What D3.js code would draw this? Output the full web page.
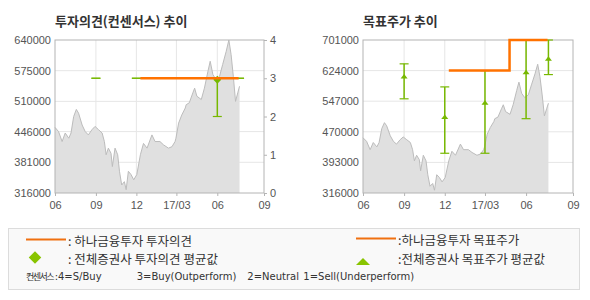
<!DOCTYPE html>
<html>
<head>
<meta charset="utf-8">
<script src="https://cdn.jsdelivr.net/npm/d3@7"></script>
<style>
body { margin: 0; background: #fff; }
text { font-family: "Liberation Sans", Arial, sans-serif; }
.kr { font-family: "Noto Sans CJK KR", "Noto Sans", sans-serif; }
.dv { font-family: "DejaVu Sans", sans-serif; }
</style>
</head>
<body>
<svg id="chart" width="590" height="300"></svg>
<script>
// share price
var priceDates = ["2016-06-01","2016-06-09","2016-06-17","2016-06-24","2016-07-02","2016-07-07","2016-07-13","2016-07-19","2016-07-24",
  "2016-08-01","2016-08-08","2016-08-15","2016-08-23","2016-08-30","2016-09-07","2016-09-15","2016-09-20","2016-09-24","2016-09-29",
  "2016-10-05","2016-10-08","2016-10-14","2016-10-20","2016-10-24","2016-10-29","2016-11-04","2016-11-08","2016-11-13","2016-11-19",
  "2016-11-25","2016-12-02","2016-12-10","2016-12-17","2016-12-25","2017-01-05","2017-01-12","2017-01-23","2017-01-31","2017-02-11",
  "2017-02-19","2017-02-26","2017-02-28","2017-03-06","2017-03-13","2017-03-21","2017-03-23","2017-03-30","2017-04-07","2017-04-11",
  "2017-04-16","2017-04-26","2017-05-03","2017-05-11","2017-05-16","2017-05-22","2017-05-29","2017-06-06","2017-06-13","2017-06-21",
  "2017-06-27","2017-07-02","2017-07-07","2017-07-12","2017-07-17","2017-07-21"];
var priceValues = [455000,446000,425000,443000,432000,443000,478000,493000,485000,
  460000,446000,439000,450000,457000,450000,443000,425000,397000,411000,
  400000,372000,411000,397000,362000,333000,340000,323000,362000,355000,
  344000,355000,397000,421000,411000,439000,425000,425000,418000,411000,
  414000,425000,432000,464000,481000,496000,503000,507000,528000,538000,
  521000,514000,538000,574000,595000,567000,556000,563000,588000,616000,
  640000,609000,563000,510000,528000,542000];

var xTickDates = ["2016-06-01","2016-09-01","2016-12-01","2017-03-01","2017-06-01","2017-09-14"];
var xTickLabels = ["06","09","12","17/03","06","09"];

var leftPriceTicks = [316000,381000,446000,510000,575000,640000];
var opinionTicks = [0,1,2,3,4];
var rightPriceTicks = [316000,393000,470000,547000,624000,701000];

// 하나금융투자
var hanaOpinionDates = ["2016-12-10","2017-07-19"];
var hanaOpinionValues = [3,3];
var hanaTargetDates = ["2016-12-10","2017-04-25","2017-07-19"];
var hanaTargetValues = [624000,701000,701000];

// 전체증권사 (min / avg / max)
var consensusDates = ["2016-09-01","2016-12-01","2017-03-01","2017-06-01","2017-07-21"];
var opinionMin = [3,3,3,2,3];
var opinionAvg = [3,3,3,2.96,3];
var opinionMax = [3,3,3,3,3];
var targetMin = [553000,416000,416000,503000,614000];
var targetAvg = [609000,507000,543000,620000,654000];
var targetMax = [641000,583000,624000,701000,701000];

var parse = d3.timeParse("%Y-%m-%d");
var ORANGE = "#ff7200", GREEN = "#77b800", GRID = "#e6e6e6", FRAME = "#b4b4b4", LABEL = "#555";

var svg = d3.select("#chart");

var prices = priceDates.map(function(d, i) { return { date: parse(d), value: priceValues[i] }; });

function panel(left, right, title, priceTicks) {
  var top = 40, bottom = 193;
  var x = d3.scaleTime().domain([parse(xTickDates[0]), parse(xTickDates[xTickDates.length - 1])]).range([left, right]);
  var y = d3.scaleLinear().domain([priceTicks[0], priceTicks[priceTicks.length - 1]]).range([bottom, top]);
  var g = svg.append("g");

  g.append("text").attr("class", "kr").attr("x", left).attr("y", 26)
    .attr("font-size", 13).attr("font-weight", "bold").attr("fill", "#333").text(title);

  // grid
  g.selectAll(".hg").data(priceTicks.slice(1, -1)).enter().append("line")
    .attr("x1", left).attr("x2", right).attr("y1", d => y(d)).attr("y2", d => y(d))
    .attr("stroke", GRID);
  g.selectAll(".vg").data(xTickDates.slice(1, -1)).enter().append("line")
    .attr("y1", top).attr("y2", bottom).attr("x1", d => x(parse(d))).attr("x2", d => x(parse(d)))
    .attr("stroke", GRID);

  // price area
  g.append("path").datum(prices)
    .attr("d", d3.area().x(d => x(d.date)).y0(bottom).y1(d => y(d.value)))
    .attr("fill", "#e0e0e0");
  g.append("path").datum(prices)
    .attr("d", d3.line().x(d => x(d.date)).y(d => y(d.value)))
    .attr("fill", "none").attr("stroke", "#bcbcbc").attr("stroke-width", 1);

  // frame
  g.append("rect").attr("x", left).attr("y", top).attr("width", right - left).attr("height", bottom - top)
    .attr("fill", "none").attr("stroke", FRAME);

  // axes
  var yAxis = g.append("g").attr("transform", "translate(" + left + ",0)")
    .call(d3.axisLeft(y).tickValues(priceTicks).tickSize(0).tickPadding(4).tickFormat(d3.format("d")));
  var xAxis = g.append("g").attr("transform", "translate(0," + bottom + ")")
    .call(d3.axisBottom(x).tickValues(xTickDates.map(parse)).tickSize(3).tickPadding(5)
      .tickFormat((d, i) => xTickLabels[i]));
  [yAxis, xAxis].forEach(function(a) {
    a.select(".domain").remove();
    a.selectAll("line").attr("stroke", FRAME);
    a.selectAll("text").attr("fill", LABEL).attr("font-size", 11);
  });

  return { g: g, x: x, y: y, top: top, bottom: bottom };
}

// ---- left: 투자의견
var L = panel(55, 264, "투자의견(컨센서스) 추이", leftPriceTicks);
var yo = d3.scaleLinear().domain([0, 4]).range([L.bottom, L.top]);
var rAxis = L.g.append("g").attr("transform", "translate(264,0)")
  .call(d3.axisRight(yo).tickValues(opinionTicks).tickSize(3).tickPadding(3).tickFormat(d3.format("d")));
rAxis.select(".domain").remove();
rAxis.selectAll("line").attr("stroke", FRAME);
rAxis.selectAll("text").attr("fill", LABEL).attr("font-size", 11);

function errorBars(g, x, y, mins, maxs) {
  consensusDates.forEach(function(d, i) {
    var cx = x(parse(d));
    g.append("line").attr("x1", cx).attr("x2", cx).attr("y1", y(mins[i])).attr("y2", y(maxs[i]))
      .attr("stroke", GREEN).attr("stroke-width", 1.5);
    [mins[i], maxs[i]].forEach(function(v) {
      g.append("line").attr("x1", cx - 4.5).attr("x2", cx + 4.5).attr("y1", y(v)).attr("y2", y(v))
        .attr("stroke", GREEN).attr("stroke-width", 1.2);
    });
  });
}

errorBars(L.g, L.x, yo, opinionMin, opinionMax);
consensusDates.forEach(function(d, i) {
  if (opinionMin[i] === opinionMax[i]) return;
  L.g.append("path").attr("d", d3.symbol(d3.symbolDiamond2, 40)())
    .attr("transform", "translate(" + L.x(parse(d)) + "," + yo(opinionAvg[i]) + ")")
    .attr("fill", GREEN);
});
L.g.append("path")
  .datum(hanaOpinionDates.map((d, i) => ({ date: parse(d), value: hanaOpinionValues[i] })))
  .attr("d", d3.line().x(d => L.x(d.date)).y(d => yo(d.value)))
  .attr("fill", "none").attr("stroke", ORANGE).attr("stroke-width", 2.5);

// ---- right: 목표주가
var R = panel(363, 573, "목표주가 추이", rightPriceTicks);
errorBars(R.g, R.x, R.y, targetMin, targetMax);
consensusDates.forEach(function(d, i) {
  var cx = R.x(parse(d)), cy = R.y(targetAvg[i]);
  R.g.append("path").attr("d", "M" + (cx - 3.5) + "," + (cy + 2) + "L" + cx + "," + (cy - 2.5) + "L" + (cx + 3.5) + "," + (cy + 2) + "Z")
    .attr("fill", GREEN);
});
R.g.append("path")
  .datum(hanaTargetDates.map((d, i) => ({ date: parse(d), value: hanaTargetValues[i] })))
  .attr("d", d3.line().curve(d3.curveStepAfter).x(d => R.x(d.date)).y(d => R.y(d.value)))
  .attr("fill", "none").attr("stroke", ORANGE).attr("stroke-width", 2.5);

// ---- legend
var lg = svg.append("g");
lg.append("rect").attr("x", 8.5).attr("y", 228.5).attr("width", 571).attr("height", 61)
  .attr("fill", "#f9f9f9").attr("stroke", "#dcdcdc");

lg.append("line").attr("x1", 26).attr("x2", 66).attr("y1", 239.5).attr("y2", 239.5)
  .attr("stroke", "#f07010").attr("stroke-width", 2);
lg.append("line").attr("x1", 356).attr("x2", 396).attr("y1", 238.5).attr("y2", 238.5)
  .attr("stroke", "#f07010").attr("stroke-width", 2);
lg.append("path").attr("d", d3.symbol(d3.symbolDiamond2, 100)())
  .attr("transform", "translate(35,257.5)").attr("fill", "#88c400");
lg.append("path").attr("d", "M356,265L363,258L370,265Z").attr("fill", "#88c400");

var legendTexts = [
  [68, 246, ": 하나금융투자 투자의견"],
  [68, 264, ": 전체증권사 투자의견 평균값"],
  [398, 245, ":하나금융투자 목표주가"],
  [398, 264, ":전체증권사 목표주가 평균값"]
];
lg.selectAll(".lt").data(legendTexts).enter().append("text")
  .attr("class", "kr").attr("x", d => d[0]).attr("y", d => d[1])
  .attr("font-size", 12.5).attr("fill", "#333").text(d => d[2]);

// consensus scale note
var note = lg.append("text").attr("x", 26).attr("y", 280).attr("fill", "#333");
note.append("tspan").attr("class", "kr").attr("font-size", 9).attr("letter-spacing", -1.5).text("컨센서스");
note.append("tspan").attr("class", "dv").attr("font-size", 10).attr("dx", 1.5).text(":4=S/Buy");
var scaleNote = [[136.7, "3=Buy(Outperform)"], [247.3, "2=Neutral"], [303.3, "1=Sell(Underperform)"]];
lg.selectAll(".sn").data(scaleNote).enter().append("text")
  .attr("class", "dv").attr("x", d => d[0]).attr("y", 280)
  .attr("font-size", 10).attr("fill", "#333").text(d => d[1]);
</script>
</body>
</html>
